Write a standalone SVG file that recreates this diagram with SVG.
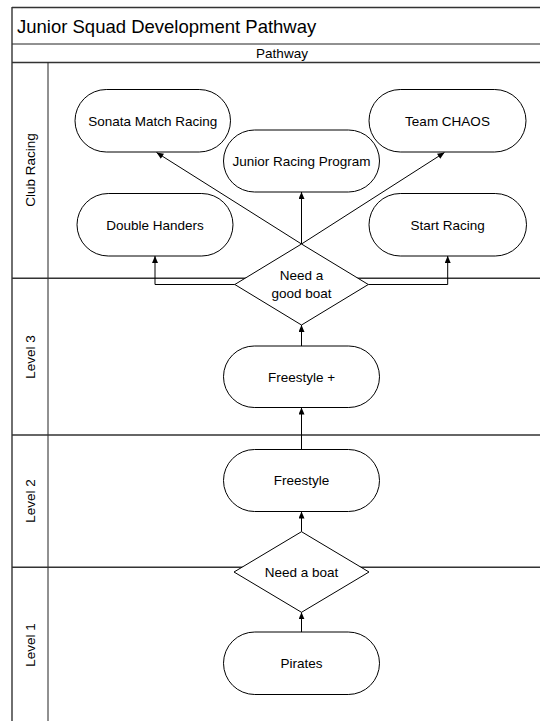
<svg xmlns="http://www.w3.org/2000/svg" width="540" height="721" viewBox="0 0 540 721">
  <style>
    .pool { stroke: #333; stroke-width: 1.4; fill: none; }
    .thin { stroke: #222; stroke-width: 1; fill: none; }
    .node { fill: #fff; stroke: #000; stroke-width: 1; }
    .conn { stroke: #000; stroke-width: 1; fill: none; }
    text { font-family: "Liberation Sans", Arial, sans-serif; fill: #000; }
    .lbl { font-size: 13.5px; text-anchor: middle; }
    .title { font-size: 18.5px; }
  </style>
  <defs>
    <marker id="arrow" markerUnits="userSpaceOnUse" markerWidth="7" markerHeight="6" refX="7" refY="3" orient="auto">
      <path d="M0,0 L7,3 L0,6 z" fill="#000"/>
    </marker>
  </defs>

  <rect width="540" height="721" fill="#fff"/>

  <g id="pool">
    <line class="pool" x1="12" y1="7.5" x2="540" y2="7.5"/>
    <line class="thin" x1="12" y1="44" x2="540" y2="44"/>
    <line class="pool" x1="12" y1="62.5" x2="540" y2="62.5"/>
    <line class="pool" x1="12" y1="7" x2="12" y2="721"/>
    <line class="thin" x1="48" y1="62.5" x2="48" y2="721"/>
    <line class="pool" x1="12" y1="278.3" x2="540" y2="278.3"/>
    <line class="pool" x1="12" y1="435" x2="540" y2="435"/>
    <line class="pool" x1="12" y1="567.3" x2="540" y2="567.3"/>
    <text class="title" x="17" y="33.3">Junior Squad Development Pathway</text>
    <text class="lbl" x="282" y="58">Pathway</text>
    <text class="lbl" transform="translate(34.5,170) rotate(-90)">Club Racing</text>
    <text class="lbl" transform="translate(34.5,357) rotate(-90)">Level 3</text>
    <text class="lbl" transform="translate(34.5,501) rotate(-90)">Level 2</text>
    <text class="lbl" transform="translate(34.5,645) rotate(-90)">Level 1</text>
  </g>

  <g id="connectors">
    <line class="conn" x1="301.5" y1="244" x2="156.5" y2="152.5" marker-end="url(#arrow)"/>
    <line class="conn" x1="301.5" y1="244" x2="444.5" y2="152.5" marker-end="url(#arrow)"/>
    <line class="conn" x1="301.5" y1="244" x2="301.5" y2="192" marker-end="url(#arrow)"/>
    <polyline class="conn" points="234.8,284.5 155,284.5 155,256" marker-end="url(#arrow)"/>
    <polyline class="conn" points="368.3,284.5 447.7,284.5 447.7,256" marker-end="url(#arrow)"/>
    <line class="conn" x1="301.5" y1="346" x2="301.5" y2="325" marker-end="url(#arrow)"/>
    <line class="conn" x1="301.5" y1="449.5" x2="301.5" y2="407.5" marker-end="url(#arrow)"/>
    <line class="conn" x1="301.5" y1="531.7" x2="301.5" y2="511.5" marker-end="url(#arrow)"/>
    <line class="conn" x1="301.5" y1="632" x2="301.5" y2="612.3" marker-end="url(#arrow)"/>
  </g>

  <g id="sonata">
    <rect class="node" x="75" y="89.5" width="155.5" height="62.5" rx="31.25"/>
    <text class="lbl" x="152.75" y="125.5">Sonata Match Racing</text>
  </g>
  <g id="team-chaos">
    <rect class="node" x="369" y="89.5" width="157" height="62.5" rx="31.25"/>
    <text class="lbl" x="447.5" y="125.5">Team CHAOS</text>
  </g>
  <g id="junior-racing">
    <rect class="node" x="223.5" y="130" width="156" height="62" rx="31"/>
    <text class="lbl" x="301.5" y="165.8">Junior Racing Program</text>
  </g>
  <g id="double-handers">
    <rect class="node" x="77" y="193.5" width="156" height="62.5" rx="31.25"/>
    <text class="lbl" x="155" y="229.5">Double Handers</text>
  </g>
  <g id="start-racing">
    <rect class="node" x="369" y="193.5" width="157.5" height="62.5" rx="31.25"/>
    <text class="lbl" x="447.75" y="229.5">Start Racing</text>
  </g>
  <g id="need-good-boat">
    <polygon class="node" points="301.5,244 368.3,284.5 301.5,325 234.8,284.5"/>
    <text class="lbl" x="301.5" y="280">Need a</text>
    <text class="lbl" x="301.5" y="298.3">good boat</text>
  </g>
  <g id="freestyle-plus">
    <rect class="node" x="223.5" y="346" width="156" height="61.5" rx="30.75"/>
    <text class="lbl" x="301.5" y="381.5">Freestyle +</text>
  </g>
  <g id="freestyle">
    <rect class="node" x="223.5" y="449.5" width="156" height="62" rx="31"/>
    <text class="lbl" x="301.5" y="485.3">Freestyle</text>
  </g>
  <g id="need-boat">
    <polygon class="node" points="301.5,531.7 369,572 301.5,612.3 234,572"/>
    <text class="lbl" x="301.5" y="576.8">Need a boat</text>
  </g>
  <g id="pirates">
    <rect class="node" x="223.5" y="632" width="156" height="62.5" rx="31.25"/>
    <text class="lbl" x="301.5" y="668">Pirates</text>
  </g>
</svg>
